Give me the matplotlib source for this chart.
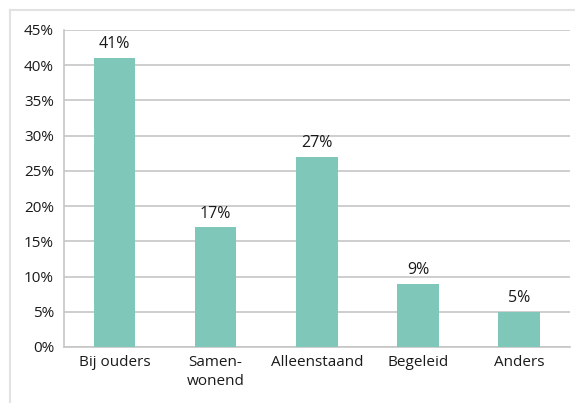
import matplotlib.pyplot as plt
from matplotlib.lines import Line2D

categories = ['Bij ouders', 'Samen-\nwonend', 'Alleenstaand', 'Begeleid', 'Anders']
values = [41, 17, 27, 9, 5]
yticks = [0, 5, 10, 15, 20, 25, 30, 35, 40, 45]

plt.rcParams['font.family'] = ['Open Sans', 'DejaVu Sans']

fig = plt.figure(figsize=(5.75, 4.03), dpi=100)
ax = fig.add_axes([0.111, 0.139, 0.880, 0.787])

x = range(len(categories))
ax.bar(x, values, width=0.41, color='#7fc8b9', zorder=3)
for xi, v in zip(x, values):
    ax.annotate(f'{v}%', (xi, v), xytext=(0, 4), textcoords='offset points',
                ha='center', va='bottom', fontsize=11.5, color='#1a1a1a')

ax.set_xlim(-0.5, len(categories) - 0.5)
ax.set_ylim(0, 45)
ax.set_yticks(yticks)
ax.set_yticklabels([f'{t}%' for t in yticks])
ax.set_xticks(list(x))
ax.set_xticklabels(categories, linespacing=1.35)
ax.tick_params(length=0, labelsize=11, colors='#1a1a1a')
ax.tick_params(axis='y', pad=7)
ax.tick_params(axis='x', pad=6)
ax.yaxis.grid(True, color='#c6c6c6', linewidth=1.2, zorder=0)
for s in ['top', 'right']:
    ax.spines[s].set_visible(False)
for s in ['left', 'bottom']:
    ax.spines[s].set_color('#c6c6c6')
    ax.spines[s].set_linewidth(1.2)

# outer frame (top and left edge visible)
fig.add_artist(Line2D([0.018, 1.0], [0.976, 0.976], color='#e2e2e2', linewidth=1.5))
fig.add_artist(Line2D([0.018, 0.018], [0.0, 0.976], color='#e2e2e2', linewidth=1.5))

fig.savefig('out.png', dpi=100)
